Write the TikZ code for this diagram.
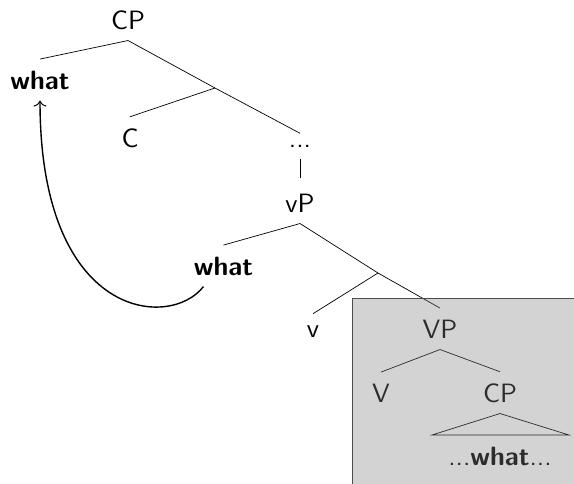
\documentclass[tikz,border=0pt]{standalone}
\usetikzlibrary{arrows.meta}
\begin{document}
\begin{tikzpicture}[x=1pt,y=-1pt,
  tn/.style={anchor=base, scale=2.65, inner xsep=0.75pt, inner ysep=4.15pt, text depth=0pt, font=\sffamily},
  br/.style={line width=0.7pt},
  mv/.style={line width=1.4pt, -{To[length=6pt,width=13pt,line width=1pt]}},
  shade/.style={fill=gray, fill opacity=0.35, draw=gray!60!black, line width=1pt}]
\useasboundingbox (0,0) rectangle (574,483);
% nodes
\node[tn] (cp) at (128,29) {CP};
\node[tn] (what1) at (40,89) {\bfseries what};
\node[tn] (c) at (130,147) {C};
\node[tn] (dots) at (300,147) {...};
\node[tn] (vp) at (300,212) {vP};
\node[tn] (what2) at (223.5,275) {\bfseries what};
\node[tn] (v) at (313,337) {v};
\node[tn] (VP) at (440,338) {VP};
\node[tn] (V) at (381,402) {V};
\node[tn] (cp2) at (500,402) {CP};
\node[tn] (low) at (500,465) {...\textbf{what}...};
\coordinate (b1) at (215,88);
\coordinate (b2) at (378,273);
\coordinate (tl) at (432,435);
\coordinate (tr) at (569,435);
% branches
\draw[br] (cp.south) -- (what1.north);
\draw[br] (cp.south) -- (b1) -- (dots.north);
\draw[br] (b1) -- (c.north);
\draw[br] (dots.south) -- ([yshift=4pt]vp.north);
\draw[br] (vp.south) -- (what2.north);
\draw[br] (vp.south) -- (b2) -- (VP.north);
\draw[br] (b2) -- (v.north);
\draw[br] (VP.south) -- (V.north);
\draw[br] (VP.south) -- (cp2.north);
\draw[br] (cp2.south) -- (tl) -- (tr) -- cycle;
% movement arrow
\draw[mv] ([xshift=-20pt]what2.south) .. controls (170,330) and (40,320) .. (what1.south);
% shaded box
\node[shade, inner sep=0pt, minimum width=226pt, minimum height=190pt, anchor=north west] (box) at (352,298) {};
\end{tikzpicture}
\end{document}
